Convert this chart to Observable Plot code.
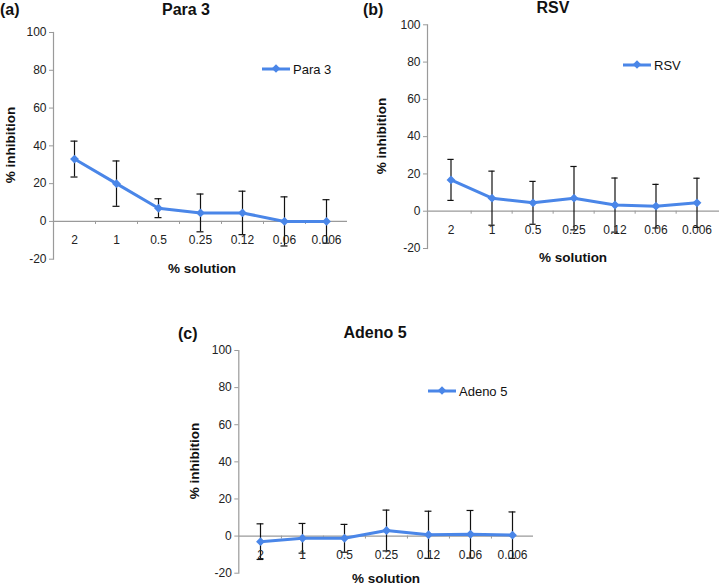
<!DOCTYPE html>
<html>
<head>
<meta charset="utf-8">
<script src="https://cdn.jsdelivr.net/npm/d3@7"></script>
<script src="https://cdn.jsdelivr.net/npm/@observablehq/plot@0.6"></script>
<style>
  html, body { margin: 0; padding: 0; background: #fff; }
  body { font-family: "Liberation Sans", Arial, sans-serif; }
  #wrap { position: relative; width: 720px; height: 588px; overflow: hidden; background: #fff; }
  .abs { position: absolute; white-space: nowrap; color: #111; }
  .title { font-weight: bold; font-size: 16px; transform: translate(-50%, -50%); }
  .letter { font-weight: bold; font-size: 16px; transform: translate(0, -50%); }
  .xlab { font-weight: bold; font-size: 13.5px; line-height: 14px; transform: translate(-50%, -50%); }
  .ylab { font-weight: bold; font-size: 13.5px; transform: translate(-50%, -50%) rotate(-90deg); }
  .leg { font-size: 13px; display: flex; align-items: center; transform: translate(0, -50%); }
  .leg .sw { position: relative; width: 28px; height: 3px; background: #4a86e8; margin-right: 3px; }
  .leg .sw i { position: absolute; left: 11px; top: -2.5px; width: 6px; height: 6px; background: #4a86e8; transform: rotate(45deg); }
  .panel { position: absolute; }
  .panel svg { overflow: visible; }
</style>
</head>
<body>
<div id="wrap"></div>
<script>
const categories = ["2", "1", "0.5", "0.25", "0.12", "0.06", "0.006"];
const yTicks = [-20, 0, 20, 40, 60, 80, 100];

const para3Mean = [33, 20, 7, 4.5, 4.5, 0, 0];
const para3Err  = [9.5, 12, 5, 10, 11.5, 13, 11.5];

const rsvMean = [16.8, 7, 4.5, 7, 3.3, 2.7, 4.5];
const rsvErr  = [11, 14.5, 11.5, 17, 14.5, 11.7, 13.2];

const adenoMean = [-3, -1.2, -1.2, 3, 0.7, 1, 0.5];
const adenoErr  = [9.6, 8, 7.5, 11, 12.7, 12.8, 12.5];

const BLUE = "#4a86e8";
const wrap = document.getElementById("wrap");

function addDiv(cls, text, x, y) {
  const d = document.createElement("div");
  d.className = "abs " + cls;
  d.textContent = text;
  d.style.left = x + "px";
  d.style.top = y + "px";
  wrap.appendChild(d);
  return d;
}
function addLegend(name, x, y) {
  const d = document.createElement("div");
  d.className = "abs leg";
  d.style.left = x + "px";
  d.style.top = y + "px";
  d.innerHTML = '<span class="sw"><i></i></span><span></span>';
  d.lastChild.textContent = name;
  wrap.appendChild(d);
}

function panel(cfg) {
  const data = categories.map((c, i) => ({
    c, m: cfg.mean[i], lo: cfg.mean[i] - cfg.err[i], hi: cfg.mean[i] + cfg.err[i]
  }));
  const innerW = cfg.width - cfg.mL - cfg.mR;
  const bw = innerW / categories.length;
  const capInset = (bw - 7) / 2;
  const chart = Plot.plot({
    width: cfg.width,
    height: cfg.height,
    marginLeft: cfg.mL, marginRight: cfg.mR, marginTop: cfg.mT, marginBottom: cfg.mB,
    style: { fontFamily: "Liberation Sans, Arial, sans-serif", color: "#222", background: "transparent", overflow: "visible" },
    x: { type: "band", domain: categories, padding: 0, axis: null },
    y: { domain: [-20, 100], axis: null },
    marks: [
      Plot.frame({ anchor: "left", stroke: "#9a9a9a", strokeWidth: 1.2 }),
      Plot.axisY({ ticks: yTicks, tickSize: 4, tickPadding: 3, fontSize: 12, stroke: "#9a9a9a", tickFormat: d => String(d) }),
      Plot.ruleY([0], { stroke: "#9a9a9a", strokeWidth: 1.2 }),
      Plot.ruleX(categories.slice(1), { x: d => d, y1: 0, y2: -1.6, dx: -bw / 2, stroke: "#9a9a9a" }),
      Plot.ruleX(data, { x: "c", y1: "lo", y2: "hi", stroke: "#111", strokeWidth: 1.2 }),
      Plot.tickY(data, { x: "c", y: "hi", stroke: "#111", strokeWidth: 1.2, inset: capInset }),
      Plot.tickY(data, { x: "c", y: "lo", stroke: "#111", strokeWidth: 1.2, inset: capInset }),
      Plot.text(data, { x: "c", y: 0, text: "c", dy: 19, fontSize: 12, fill: "#222" }),
      Plot.line(data, { x: "c", y: "m", stroke: BLUE, strokeWidth: 3 }),
      Plot.dot(data, { x: "c", y: "m", symbol: "diamond2", r: 4, fill: BLUE, stroke: "none" })
    ]
  });
  const holder = document.createElement("div");
  holder.className = "panel";
  holder.style.left = cfg.left + "px";
  holder.style.top = cfg.top + "px";
  holder.style.width = cfg.width + "px";
  holder.appendChild(chart);
  wrap.appendChild(holder);
}

// Panel (a)
panel({ mean: para3Mean, err: para3Err, left: 0, top: 0, width: 360, height: 280, mL: 53, mR: 13, mT: 32, mB: 21.3 });
addDiv("letter", "(a)", 0, 10);
addDiv("title", "Para 3", 186, 10);
addDiv("ylab", "% inhibition", 10, 145);
addDiv("xlab", "% solution", 202, 269);
addLegend("Para 3", 262, 69);

// Panel (b)
panel({ mean: rsvMean, err: rsvErr, left: 360, top: 0, width: 360, height: 280, mL: 67, mR: 1, mT: 24.3, mB: 32 });
addDiv("letter", "(b)", 363, 10);
addDiv("title", "RSV", 553, 8);
addDiv("ylab", "% inhibition", 381, 136);
addDiv("xlab", "% solution", 573, 258);
addLegend("RSV", 623, 65);

// Panel (c)
panel({ mean: adenoMean, err: adenoErr, left: 170, top: 300, width: 380, height: 288, mL: 68.3, mR: 17, mT: 50, mB: 15.3 });
addDiv("letter", "(c)", 178, 334);
addDiv("title", "Adeno 5", 375, 333);
addDiv("ylab", "% inhibition", 194, 461);
addDiv("xlab", "% solution", 386, 579);
addLegend("Adeno 5", 428, 391);
</script>
</body>
</html>
